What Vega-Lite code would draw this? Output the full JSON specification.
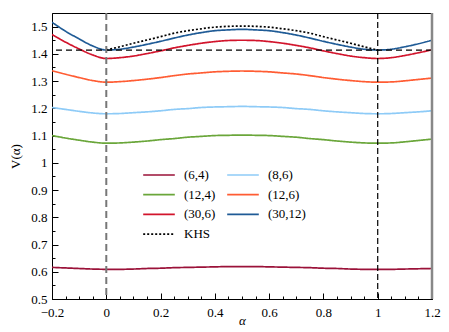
{
  "$schema": "https://vega.github.io/schema/vega-lite/v6.json",
  "autosize": "none",
  "width": 380,
  "height": 286,
  "padding": {"left": 52, "top": 13, "right": 17, "bottom": 33},
  "config": {
    "view": {"stroke": "black", "strokeWidth": 1},
    "font": "Liberation Serif",
    "axis": {"grid": false, "domainColor": "black", "tickColor": "black", "labelFont": "Liberation Serif", "labelFontSize": 13, "labelColor": "black", "titleFont": "Liberation Serif", "titleFontSize": 13, "titleFontWeight": "normal", "titleColor": "black"}
  },
  "datasets": {
    "main": [
      {"a": -0.2, "(6,4)": 0.616, "(8,6)": 1.203, "(12,4)": 1.100, "(12,6)": 1.338, "(30,6)": 1.471, "(30,12)": 1.516, "KHS": null},
      {"a": -0.15, "(6,4)": 0.614, "(8,6)": 1.196, "(12,4)": 1.091, "(12,6)": 1.325, "(30,6)": 1.443, "(30,12)": 1.483, "KHS": null},
      {"a": -0.1, "(6,4)": 0.612, "(8,6)": 1.189, "(12,4)": 1.083, "(12,6)": 1.313, "(30,6)": 1.418, "(30,12)": 1.455, "KHS": null},
      {"a": -0.05, "(6,4)": 0.610, "(8,6)": 1.183, "(12,4)": 1.076, "(12,6)": 1.302, "(30,6)": 1.396, "(30,12)": 1.429, "KHS": null},
      {"a": 0, "(6,4)": 0.609, "(8,6)": 1.180, "(12,4)": 1.072, "(12,6)": 1.296, "(30,6)": 1.383, "(30,12)": 1.414, "KHS": 1.414},
      {"a": 0.05, "(6,4)": 0.609, "(8,6)": 1.181, "(12,4)": 1.073, "(12,6)": 1.298, "(30,6)": 1.386, "(30,12)": 1.417, "KHS": 1.426},
      {"a": 0.1, "(6,4)": 0.610, "(8,6)": 1.184, "(12,4)": 1.076, "(12,6)": 1.302, "(30,6)": 1.392, "(30,12)": 1.425, "KHS": 1.439},
      {"a": 0.15, "(6,4)": 0.612, "(8,6)": 1.187, "(12,4)": 1.080, "(12,6)": 1.307, "(30,6)": 1.401, "(30,12)": 1.435, "KHS": 1.451},
      {"a": 0.2, "(6,4)": 0.613, "(8,6)": 1.191, "(12,4)": 1.085, "(12,6)": 1.313, "(30,6)": 1.411, "(30,12)": 1.446, "KHS": 1.463},
      {"a": 0.25, "(6,4)": 0.615, "(8,6)": 1.196, "(12,4)": 1.089, "(12,6)": 1.320, "(30,6)": 1.422, "(30,12)": 1.458, "KHS": 1.476},
      {"a": 0.3, "(6,4)": 0.616, "(8,6)": 1.199, "(12,4)": 1.094, "(12,6)": 1.326, "(30,6)": 1.431, "(30,12)": 1.469, "KHS": 1.485},
      {"a": 0.35, "(6,4)": 0.617, "(8,6)": 1.203, "(12,4)": 1.097, "(12,6)": 1.330, "(30,6)": 1.439, "(30,12)": 1.478, "KHS": 1.492},
      {"a": 0.4, "(6,4)": 0.618, "(8,6)": 1.205, "(12,4)": 1.100, "(12,6)": 1.334, "(30,6)": 1.445, "(30,12)": 1.485, "KHS": 1.498},
      {"a": 0.45, "(6,4)": 0.619, "(8,6)": 1.206, "(12,4)": 1.101, "(12,6)": 1.336, "(30,6)": 1.449, "(30,12)": 1.488, "KHS": 1.501},
      {"a": 0.5, "(6,4)": 0.619, "(8,6)": 1.207, "(12,4)": 1.102, "(12,6)": 1.337, "(30,6)": 1.450, "(30,12)": 1.490, "KHS": 1.502},
      {"a": 0.55, "(6,4)": 0.619, "(8,6)": 1.206, "(12,4)": 1.101, "(12,6)": 1.336, "(30,6)": 1.449, "(30,12)": 1.488, "KHS": 1.501},
      {"a": 0.6, "(6,4)": 0.618, "(8,6)": 1.205, "(12,4)": 1.100, "(12,6)": 1.334, "(30,6)": 1.445, "(30,12)": 1.485, "KHS": 1.498},
      {"a": 0.65, "(6,4)": 0.617, "(8,6)": 1.203, "(12,4)": 1.097, "(12,6)": 1.330, "(30,6)": 1.439, "(30,12)": 1.478, "KHS": 1.492},
      {"a": 0.7, "(6,4)": 0.616, "(8,6)": 1.199, "(12,4)": 1.094, "(12,6)": 1.326, "(30,6)": 1.431, "(30,12)": 1.469, "KHS": 1.485},
      {"a": 0.75, "(6,4)": 0.615, "(8,6)": 1.196, "(12,4)": 1.089, "(12,6)": 1.320, "(30,6)": 1.422, "(30,12)": 1.458, "KHS": 1.476},
      {"a": 0.8, "(6,4)": 0.613, "(8,6)": 1.191, "(12,4)": 1.085, "(12,6)": 1.313, "(30,6)": 1.411, "(30,12)": 1.446, "KHS": 1.463},
      {"a": 0.85, "(6,4)": 0.612, "(8,6)": 1.187, "(12,4)": 1.080, "(12,6)": 1.307, "(30,6)": 1.401, "(30,12)": 1.435, "KHS": 1.451},
      {"a": 0.9, "(6,4)": 0.610, "(8,6)": 1.184, "(12,4)": 1.076, "(12,6)": 1.302, "(30,6)": 1.392, "(30,12)": 1.425, "KHS": 1.439},
      {"a": 0.95, "(6,4)": 0.609, "(8,6)": 1.181, "(12,4)": 1.073, "(12,6)": 1.298, "(30,6)": 1.386, "(30,12)": 1.417, "KHS": 1.426},
      {"a": 1, "(6,4)": 0.609, "(8,6)": 1.180, "(12,4)": 1.072, "(12,6)": 1.296, "(30,6)": 1.383, "(30,12)": 1.414, "KHS": 1.414},
      {"a": 1.05, "(6,4)": 0.609, "(8,6)": 1.181, "(12,4)": 1.073, "(12,6)": 1.297, "(30,6)": 1.386, "(30,12)": 1.417, "KHS": null},
      {"a": 1.1, "(6,4)": 0.610, "(8,6)": 1.184, "(12,4)": 1.077, "(12,6)": 1.301, "(30,6)": 1.394, "(30,12)": 1.426, "KHS": null},
      {"a": 1.15, "(6,4)": 0.611, "(8,6)": 1.187, "(12,4)": 1.082, "(12,6)": 1.306, "(30,6)": 1.404, "(30,12)": 1.437, "KHS": null},
      {"a": 1.2, "(6,4)": 0.612, "(8,6)": 1.191, "(12,4)": 1.087, "(12,6)": 1.311, "(30,6)": 1.415, "(30,12)": 1.450, "KHS": null}
    ]
  },
  "resolve": {"axis": {"x": "independent", "y": "independent"}},
  "layer": [
    {
      "data": {"name": "main"},
      "transform": [
        {"fold": ["(6,4)", "(8,6)", "(12,4)", "(12,6)", "(30,6)", "(30,12)", "KHS"], "as": ["series", "v"]},
        {"filter": "isValid(datum.v)"}
      ],
      "mark": {"type": "line", "strokeWidth": 1.7, "interpolate": "monotone", "clip": true},
      "encoding": {
        "x": {"field": "a", "type": "quantitative",
          "scale": {"domain": [-0.2, 1.2], "nice": false, "zero": false},
          "axis": {"orient": "bottom", "title": "α", "titleFontStyle": "italic", "titlePadding": -5,
            "labelFont": "Liberation Serif", "labelFontSize": 13, "titleFont": "Liberation Serif", "titleFontSize": 13,
            "values": [-0.2, 0, 0.2, 0.4, 0.6, 0.8, 1, 1.2],
            "format": "~g", "tickSize": -6,
            "labelPadding": 13, "labelFlush": false, "labelOverlap": false}},
        "y": {"field": "v", "type": "quantitative",
          "scale": {"domain": [0.5, 1.55], "nice": false, "zero": false},
          "axis": {"orient": "left", "title": "V(α)", "titlePadding": 8,
            "labelFont": "Liberation Serif", "labelFontSize": 13, "titleFont": "Liberation Serif", "titleFontSize": 13,
            "values": [0.5, 0.6, 0.7, 0.8, 0.9, 1, 1.1, 1.2, 1.3, 1.4, 1.5],
            "format": "~g", "tickSize": -6,
            "labelPadding": 11, "labelFlush": false, "labelOverlap": false}},
        "color": {"field": "series", "type": "nominal",
          "scale": {"domain": ["(6,4)", "(12,4)", "(30,6)", "KHS", "(8,6)", "(12,6)", "(30,12)"],
            "range": ["#9b1239", "#6aa63a", "#d2142c", "#000000", "#8ecbf7", "#ff5c33", "#1f5b96"]},
          "legend": {"title": null, "orient": "none", "legendX": 90, "legendY": 155, "columns": 2, "symbolType": "stroke", "symbolSize": 1000, "symbolStrokeWidth": 1.7, "clipHeight": 14, "labelFont": "Liberation Serif", "labelFontSize": 13, "labelColor": "black", "labelOffset": 8, "columnPadding": 10, "rowPadding": 5.7}},
        "strokeDash": {"field": "series", "type": "nominal",
          "scale": {"domain": ["(6,4)", "(12,4)", "(30,6)", "KHS", "(8,6)", "(12,6)", "(30,12)"],
            "range": [[1, 0], [1, 0], [1, 0], [2, 2], [1, 0], [1, 0], [1, 0]]},
          "legend": {"title": null, "orient": "none", "legendX": 90, "legendY": 155, "columns": 2, "symbolType": "stroke", "symbolSize": 1000, "symbolStrokeWidth": 1.7, "clipHeight": 14, "labelFont": "Liberation Serif", "labelFontSize": 13, "labelColor": "black", "labelOffset": 8, "columnPadding": 10, "rowPadding": 5.7}}
      }
    },
    {
      "data": {"name": "main"},
      "mark": {"type": "point", "opacity": 0},
      "encoding": {
        "x": {"field": "a", "type": "quantitative",
          "axis": {"orient": "bottom", "title": null, "labels": false, "domain": false, "tickSize": -3,
            "values": [-0.15, -0.1, -0.05, 0.05, 0.1, 0.15, 0.25, 0.3, 0.35, 0.45, 0.5, 0.55, 0.65, 0.7, 0.75, 0.85, 0.9, 0.95, 1.05, 1.1, 1.15]}},
        "y": {"field": "(12,4)", "type": "quantitative",
          "axis": {"orient": "left", "title": null, "labels": false, "domain": false, "tickSize": -3,
            "values": [0.55, 0.65, 0.75, 0.85, 0.95, 1.05, 1.15, 1.25, 1.35, 1.45]}}
      }
    },
    {
      "data": {"values": [{"v": 1.414}]},
      "mark": {"type": "rule", "color": "black", "strokeWidth": 1.2, "strokeDash": [6, 4]},
      "encoding": {"y": {"field": "v", "type": "quantitative", "axis": null}}
    },
    {
      "data": {"values": [{"a": 0}]},
      "mark": {"type": "rule", "color": "#777777", "strokeWidth": 2, "strokeDash": [7, 4]},
      "encoding": {"x": {"field": "a", "type": "quantitative", "axis": null}}
    },
    {
      "data": {"values": [{"a": 1}]},
      "mark": {"type": "rule", "color": "black", "strokeWidth": 1.2, "strokeDash": [6, 3]},
      "encoding": {"x": {"field": "a", "type": "quantitative", "axis": null}}
    },
    {
      "data": {"values": [{"a": 1.2}]},
      "mark": {"type": "rule", "color": "#888888", "strokeWidth": 2.5},
      "encoding": {"x": {"field": "a", "type": "quantitative", "axis": null}}
    }
  ]
}
